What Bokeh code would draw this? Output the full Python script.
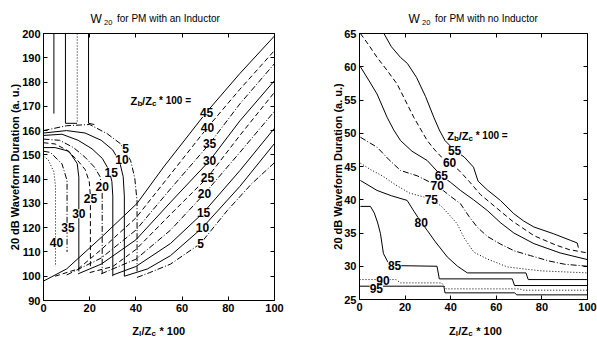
import math
from bokeh.plotting import figure
from bokeh.layouts import row
from bokeh.models import Label, LabelSet, ColumnDataSource, LinearAxis, FixedTicker
from bokeh.core.properties import value
from bokeh.embed import file_html
from bokeh.resources import INLINE

FONT = "Liberation Sans"

# ---------------- left panel: W20 for PM with an Inductor ----------------
left_xticks = [0, 20, 40, 60, 80, 100]
left_yticks = [90, 100, 110, 120, 130, 140, 150, 160, 170, 180, 190, 200]

# rising branches (Zb/Zc*100 = 45 ... 5)
rise45_x = [0, 10, 25, 40.5, 52, 70.5, 85, 100]
rise45_y = [98, 103, 116, 130, 145, 167.5, 183.5, 199]
rise40_x = [5, 15, 25, 40, 55, 71, 85, 100]
rise40_y = [100, 103, 111, 124, 142, 161.3, 177, 193]
rise35_x = [10, 25, 40, 55, 72, 85, 100]
rise35_y = [100.5, 107.5, 119, 136, 154.7, 171, 187.6]
rise30_x = [15, 25, 40, 55, 72, 85, 100]
rise30_y = [101, 105, 115, 130.5, 147.7, 164, 180.6]
rise25_x = [20, 30, 40, 55, 71, 85, 100]
rise25_y = [101.5, 104, 111, 125.5, 140.7, 158, 175.8]
rise20_x = [25, 40, 55, 69.7, 85, 100]
rise20_y = [101, 107, 119, 134, 151, 168]
rise15_x = [30, 40, 55, 69.3, 85, 100]
rise15_y = [100.5, 104, 113.5, 126.3, 143.5, 161]
rise10_x = [35, 45, 55, 68.8, 85, 100]
rise10_y = [100, 103, 108.5, 120, 137, 154.7]
rise5_x = [40.5, 46, 55, 68, 79.5, 90, 100]
rise5_y = [99.5, 101.5, 105, 113.5, 127, 138, 146.8]

# arc branches
arc5_x = [0, 10, 20, 27.6, 33.3, 37.7, 39.5, 40.5, 40.5]
arc5_y = [160, 162, 162.5, 158.7, 154.6, 147.7, 140.5, 131, 102]
arc10_x = [0, 10, 18, 25, 30, 33, 34.5, 35, 35]
arc10_y = [159, 160, 159, 156, 152, 147, 141, 133, 100]
arc15_x = [0, 8, 15, 21, 25.5, 28.5, 29.6, 30, 30]
arc15_y = [158, 158.5, 156, 152.5, 148.5, 143.5, 139, 133, 100]
arc20_x = [0, 7, 13, 18, 22, 24.5, 25.4, 25.4]
arc20_y = [156.5, 156, 153, 149, 145, 141, 136, 101]
arc25_x = [0, 5, 10, 14.5, 18, 19.8, 20.3, 20.3]
arc25_y = [155, 154.5, 152, 148, 144, 139, 133, 104]
arc30_x = [0, 5, 11, 14.6, 15.3, 15.3]
arc30_y = [153, 153, 151.5, 146.4, 140.8, 102]
arc35_x = [0, 3, 8, 10.2, 10.2]
arc35_y = [151.5, 151, 146.3, 139.4, 110]
arc40_x = [0, 2, 4.5, 5.2, 5.2]
arc40_y = [149.5, 148, 143, 137, 104]

# vertical branches at the top
top1_x = [4.5, 4.5]
top1_y = [200, 167]
top2_x = [9.5, 9.5, 14.5]
top2_y = [200, 163, 163]
top3_x = [14.6, 14.6]
top3_y = [200, 163.5]
top4_x = [19.5, 19.5, 22]
top4_y = [200, 163, 162.5]

left_label_x = [70.6, 71, 71.9, 71.9, 71, 69.7, 69.3, 68.8, 68,
                35.5, 34, 29.3, 25.4, 20.3, 15.3, 10.6, 5.6]
left_label_y = [167.5, 161.3, 154.7, 147.7, 140.7, 134.1, 126.3, 120.1, 113.5,
                152.5, 148, 142.9, 137, 131.9, 125.7, 120, 114]
left_label_t = ["45", "40", "35", "30", "25", "20", "15", "10", "5",
                "5", "10", "15", "20", "25", "30", "35", "40"]

# ---------------- right panel: W20 for PM with no Inductor ----------------
right_xticks = [0, 20, 40, 60, 80, 100]
right_yticks = [25, 30, 35, 40, 45, 50, 55, 60, 65]

r55_x = [10.7, 14, 18, 21, 25, 29, 32.6, 35, 37.5, 41.5, 46, 50, 52, 56, 61.8, 67.7, 72, 76.5, 85, 92.5, 95.5, 96]
r55_y = [65, 63, 61.4, 60.5, 58.4, 55.5, 52.4, 50.5, 48.9, 47.5, 46.4, 44.9, 42.8, 41.5, 39.9, 37.9, 36.8, 35.9, 34.9, 33.9, 33.5, 32.8]
r60_x = [0.4, 4, 7.7, 12, 16.5, 20, 23.8, 27, 29.7, 33, 36, 39.5, 44, 48, 53, 60, 67, 76.5, 86, 92, 100]
r60_y = [65, 63.3, 61.4, 59.5, 57.4, 55, 52.4, 50.5, 48.9, 47.5, 46.4, 45.6, 44.3, 42.8, 40.8, 38.8, 36.8, 34.6, 33.2, 32.5, 32]
r65_x = [0.4, 4, 7.7, 12.1, 15, 18, 23, 29.7, 35.9, 40, 44.3, 50, 56, 62, 67.7, 76.5, 88, 100]
r65_y = [60, 58, 55.9, 52.4, 50.5, 48.9, 47.3, 45.9, 43.6, 42.6, 41.4, 40, 38.4, 36.5, 35, 33.4, 32, 31]
r70_x = [0.4, 7.7, 13, 18, 25.3, 34.1, 40, 44.3, 48, 51.6, 56, 62, 68, 75, 83, 90, 100]
r70_y = [49.4, 47.9, 46, 44.4, 43.6, 42.1, 40.5, 39.4, 37.5, 35.9, 34.5, 33.3, 32.3, 31.6, 30.8, 30.3, 30]
r75_x = [0.4, 5, 10, 16, 22, 31.5, 36, 40, 42.8, 46, 50.2, 56, 64.8, 72, 80, 100]
r75_y = [45.5, 44.5, 43.6, 42.2, 41, 40.1, 39, 37.5, 36.4, 34.2, 32.1, 31.1, 29.9, 29.6, 29.3, 29]
r80_x = [0.4, 7.7, 14, 20.9, 24, 27.1, 29.7, 33, 38.5, 43, 47.3, 73, 74, 100]
r80_y = [42.9, 41.4, 40.6, 39.9, 38.2, 36.6, 35.4, 33.8, 31.4, 30, 29, 29, 28, 28]
r85_x = [0.4, 4.8, 6.5, 8, 9.2, 10.5, 12.5, 15.4, 34, 35, 67, 68, 100]
r85_y = [39, 39, 38, 36.5, 34.9, 31.9, 30.6, 30.1, 30, 28.1, 28.1, 27.1, 27.1]
r90_x = [0, 16, 18, 36, 38, 70, 72, 100]
r90_y = [28, 28, 27.5, 27.5, 26.6, 26.6, 26.4, 26.4]
r95_x = [0, 37, 37.5, 68, 69, 100]
r95_y = [27, 27, 26, 26, 25.7, 25.7]

right_label_x = [41.7, 39.5, 35.9, 34.1, 31.5, 27.1, 15.4, 10.3, 7.4]
right_label_y = [47.4, 45.6, 43.6, 42.1, 40.1, 36.6, 30.1, 27.9, 26.6]
right_label_t = ["55", "60", "65", "70", "75", "80", "85", "90", "95"]

DASH = {"s": "solid", "d": "5 3", "dd": "6 2 1 2", "o": "1 2"}


class Geo:
    """maps local canvas pixels <-> data for a figure whose frame is the whole canvas"""
    def __init__(self, w, h, px0, px1, x0, x1, py0, py1, y0, y1):
        self.w, self.h = w, h
        self.kx = (x1 - x0) / (px1 - px0)
        self.ky = (y1 - y0) / (py0 - py1)
        self.px0, self.x0, self.py0, self.y0 = px0, x0, py0, y0

    def fx(self, px):
        return self.x0 + (px - self.px0) * self.kx

    def fy(self, py):
        return self.y0 + (self.py0 - py) * self.ky


def make_fig(g, xb, yb, xticks, yticks):
    p = figure(width=g.w, height=g.h, x_range=(g.fx(0), g.fx(g.w)), y_range=(g.fy(g.h), g.fy(0)),
               min_border=0, min_border_left=0, min_border_right=0, min_border_top=0,
               min_border_bottom=0, toolbar_location=None, output_backend="svg")
    p.outline_line_color = None
    p.xgrid.visible = False
    p.ygrid.visible = False
    p.background_fill_color = "white"
    p.border_fill_color = "white"
    p.xaxis.fixed_location = yb[0]
    p.xaxis.bounds = xb
    p.yaxis.fixed_location = xb[0]
    p.yaxis.bounds = yb
    p.xaxis.ticker = FixedTicker(ticks=xticks)
    p.yaxis.ticker = FixedTicker(ticks=yticks)
    for ax in list(p.xaxis) + list(p.yaxis):
        ax.major_tick_in = 4
        ax.major_tick_out = 0
        ax.minor_tick_line_color = None
        ax.axis_line_color = "black"
        ax.major_tick_line_color = "black"
        ax.major_label_text_font = FONT
        ax.major_label_text_font_size = "11px"
        ax.major_label_text_font_style = "bold"
        ax.major_label_text_color = "black"
        ax.major_label_standoff = 3
    for loc, ticks, fixed, bnd in (("above", xticks, yb[1], xb), ("right", yticks, xb[1], yb)):
        ax = LinearAxis(ticker=FixedTicker(ticks=ticks), fixed_location=fixed, bounds=bnd,
                        major_label_overrides={t: "" for t in ticks},
                        major_label_text_color=None, major_label_standoff=0,
                        major_tick_in=4, major_tick_out=0,
                        minor_tick_line_color=None, axis_line_color="black")
        p.add_layout(ax, loc)
    return p


def add_pieces(p, g, pieces, style):
    for text, px, py, size in pieces:
        p.add_layout(Label(x=g.fx(px), y=g.fy(py), text=text, text_align="left",
                           text_baseline="alphabetic", text_font=FONT,
                           text_font_size=size, text_font_style=style,
                           text_color="black"))


def add_ylabel(p, g, px, py):
    p.add_layout(Label(x=g.fx(px), y=g.fy(py), text="20 dB Waveform Duration (a. u.)",
                       angle=math.pi / 2, text_align="center", text_baseline="middle",
                       text_font=FONT, text_font_size="11px", text_font_style="bold",
                       text_color="black"))


def add_contour_labels(p, xs, ys, ts):
    src = ColumnDataSource(dict(x=xs, y=ys, t=ts))
    p.add_layout(LabelSet(x="x", y="y", text="t", source=src, text_align="center",
                          text_baseline="middle", text_font=value(FONT),
                          text_font_size="12px", text_font_style="bold",
                          text_color="black", background_fill_color="white"))


# ---------- left figure (canvas x 0..300) ----------
gl = Geo(300, 340, 43, 274, 0, 100, 300, 33, 90, 200)
left = make_fig(gl, (0, 100), (90, 200), left_xticks, left_yticks)

left_curves = [
    (rise45_x, rise45_y, "s"), (rise40_x, rise40_y, "d"), (rise35_x, rise35_y, "dd"),
    (rise30_x, rise30_y, "s"), (rise25_x, rise25_y, "d"), (rise20_x, rise20_y, "dd"),
    (rise15_x, rise15_y, "s"), (rise10_x, rise10_y, "s"), (rise5_x, rise5_y, "dd"),
    (arc5_x, arc5_y, "dd"), (arc10_x, arc10_y, "s"), (arc15_x, arc15_y, "s"),
    (arc20_x, arc20_y, "dd"), (arc25_x, arc25_y, "d"), (arc30_x, arc30_y, "s"),
    (arc35_x, arc35_y, "dd"), (arc40_x, arc40_y, "o"),
    (top1_x, top1_y, "s"), (top2_x, top2_y, "s"), (top3_x, top3_y, "o"), (top4_x, top4_y, "s"),
]
for xs, ys, st in left_curves:
    left.line(xs, ys, line_color="black", line_width=1, line_dash=DASH[st])
add_contour_labels(left, left_label_x, left_label_y, left_label_t)

add_pieces(left, gl, [("W", 90, 18, "12px"), ("20", 103.5, 21.5, "7.5px"),
                      ("for PM with an Inductor", 116.5, 18, "10px")], "normal")
add_pieces(left, gl, [("Z", 131.7, 330, "11px"), ("l", 138.6, 333, "8px"), ("/Z", 141, 330, "11px"),
                      ("c", 151, 333, "8px"), ("* 100", 159, 330, "11px")], "bold")
add_pieces(left, gl, [("Z", 130, 100, "11px"), ("b", 136.9, 103, "8px"), ("/Z", 141.6, 100, "11px"),
                      ("c", 151.4, 103, "8px"), ("* 100 =", 158.5, 100, "10px")], "bold")
add_ylabel(left, gl, 14, 166.5)

# ---------- right figure (canvas x 300..597, local coordinates) ----------
gr = Geo(297, 340, 59, 287, 0, 100, 299, 33, 25, 65)
right = make_fig(gr, (0, 100), (25, 65), right_xticks, right_yticks)

right_curves = [
    (r55_x, r55_y, "s"), (r60_x, r60_y, "d"), (r65_x, r65_y, "s"), (r70_x, r70_y, "dd"),
    (r75_x, r75_y, "o"), (r80_x, r80_y, "s"), (r85_x, r85_y, "s"), (r90_x, r90_y, "o"),
    (r95_x, r95_y, "s"),
]
for xs, ys, st in right_curves:
    right.line(xs, ys, line_color="black", line_width=1, line_dash=DASH[st])
add_contour_labels(right, right_label_x, right_label_y, right_label_t)

add_pieces(right, gr, [("W", 108, 18, "12px"), ("20", 121.5, 21.5, "7.5px"),
                       ("for PM with no Inductor", 134.5, 18, "10px")], "normal")
add_pieces(right, gr, [("Z", 148.4, 330, "11px"), ("l", 155.3, 333, "8px"), ("/Z", 157.7, 330, "11px"),
                       ("c", 167.7, 333, "8px"), ("* 100", 175.7, 330, "11px")], "bold")
add_pieces(right, gr, [("Z", 146.7, 135, "11px"), ("b", 153.6, 138, "8px"), ("/Z", 158.3, 135, "11px"),
                       ("c", 168.1, 138, "8px"), ("* 100 =", 175.2, 135, "10px")], "bold")
add_ylabel(right, gr, 37, 166)

layout = row(left, right)
open("out.html", "w").write(file_html(layout, INLINE))
